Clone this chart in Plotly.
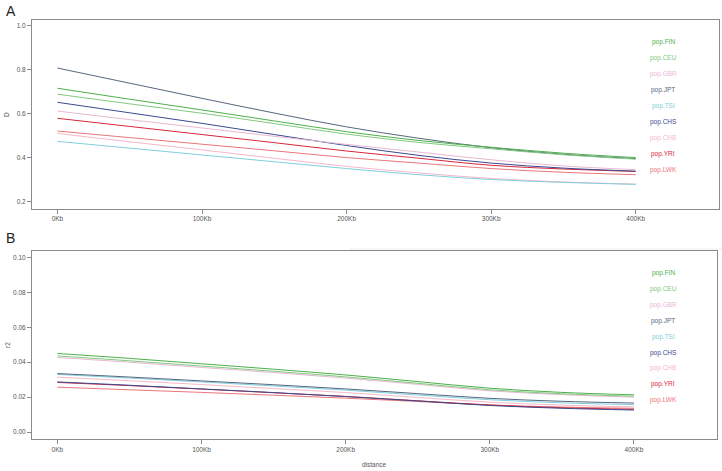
import plotly.graph_objects as go

# distance in Kb
dist_kb = [0, 50, 100, 150, 200, 250, 300, 350, 400]
tick_kb = [0, 100, 200, 300, 400]
tick_txt = ["0Kb", "100Kb", "200Kb", "300Kb", "400Kb"]

pops = ["pop.FIN", "pop.CEU", "pop.GBR", "pop.JPT", "pop.TSI",
        "pop.CHS", "pop.CHB", "pop.YRI", "pop.LWK"]
colors = ["#4daf4a", "#80c980", "#e8b8d2", "#56677f", "#7fcfdc",
          "#3a4a8f", "#f5b8ca", "#d7263d", "#e9767a"]

# panel A: D' decay
d_fin = [0.716, 0.666, 0.617, 0.567, 0.518, 0.478, 0.447, 0.420, 0.400]
d_ceu = [0.689, 0.645, 0.602, 0.555, 0.507, 0.469, 0.440, 0.413, 0.393]
d_gbr = [0.612, 0.573, 0.535, 0.497, 0.460, 0.425, 0.390, 0.362, 0.345]
d_jpt = [0.808, 0.739, 0.670, 0.603, 0.540, 0.488, 0.445, 0.415, 0.395]
d_tsi = [0.474, 0.443, 0.412, 0.381, 0.350, 0.322, 0.300, 0.287, 0.278]
d_chs = [0.652, 0.604, 0.556, 0.505, 0.455, 0.410, 0.375, 0.352, 0.338]
d_chb = [0.510, 0.472, 0.435, 0.397, 0.360, 0.330, 0.305, 0.289, 0.279]
d_yri = [0.579, 0.542, 0.505, 0.468, 0.430, 0.397, 0.365, 0.348, 0.337]
d_lwk = [0.521, 0.491, 0.461, 0.431, 0.400, 0.375, 0.350, 0.333, 0.322]

# panel B: r2 decay
r_fin = [0.0450, 0.0422, 0.0391, 0.0360, 0.0327, 0.0289, 0.0251, 0.0227, 0.0213]
r_ceu = [0.0436, 0.0408, 0.0378, 0.0348, 0.0316, 0.0279, 0.0242, 0.0219, 0.0205]
r_gbr = [0.0427, 0.0400, 0.0370, 0.0341, 0.0309, 0.0273, 0.0236, 0.0214, 0.0200]
r_jpt = [0.0335, 0.0315, 0.0293, 0.0271, 0.0247, 0.0220, 0.0193, 0.0176, 0.0166]
r_tsi = [0.0330, 0.0309, 0.0287, 0.0264, 0.0240, 0.0212, 0.0185, 0.0167, 0.0157]
r_chs = [0.0287, 0.0268, 0.0247, 0.0226, 0.0203, 0.0178, 0.0152, 0.0136, 0.0126]
r_chb = [0.0314, 0.0294, 0.0272, 0.0249, 0.0226, 0.0198, 0.0171, 0.0154, 0.0144]
r_yri = [0.0284, 0.0266, 0.0246, 0.0225, 0.0204, 0.0179, 0.0155, 0.0139, 0.0130]
r_lwk = [0.0257, 0.0242, 0.0227, 0.0211, 0.0194, 0.0175, 0.0155, 0.0143, 0.0136]

d_vals = [d_fin, d_ceu, d_gbr, d_jpt, d_tsi, d_chs, d_chb, d_yri, d_lwk]
r_vals = [r_fin, r_ceu, r_gbr, r_jpt, r_tsi, r_chs, r_chb, r_yri, r_lwk]

W, H = 722, 471
FONT = "Liberation Sans, Arial, sans-serif"
fig = go.Figure()

# draw in reverse so the top legend entries sit on top
for vals, col, name in reversed(list(zip(d_vals, colors, pops))):
    fig.add_trace(go.Scatter(x=dist_kb, y=vals, mode="lines", name=name,
                             line=dict(color=col, width=1, shape="spline"),
                             xaxis="x", yaxis="y", showlegend=False))
for vals, col, name in reversed(list(zip(r_vals, colors, pops))):
    fig.add_trace(go.Scatter(x=dist_kb, y=vals, mode="lines", name=name,
                             line=dict(color=col, width=1, shape="spline"),
                             xaxis="x2", yaxis="y2", showlegend=False))

def px_x(p):
    return p / W

def px_y(p):
    return 1 - p / H

axis_common = dict(showline=True, linecolor="#8a8a8a", linewidth=1, mirror=True,
                   showgrid=False, zeroline=False, ticks="outside", ticklen=4,
                   tickcolor="#8a8a8a", tickfont=dict(size=6.5, color="#555", family=FONT))

xa = dict(axis_common, range=[-17.6, 457.6], tickvals=tick_kb, ticktext=tick_txt)
fig.update_layout(
    width=W, height=H,
    margin=dict(l=0, r=0, t=0, b=0),
    paper_bgcolor="white", plot_bgcolor="white",
    xaxis=dict(xa, domain=[px_x(32), px_x(719)], anchor="y"),
    yaxis=dict(axis_common, domain=[px_y(208.5), px_y(20)], anchor="x",
               range=[0.168, 1.027], tickvals=[0.2, 0.4, 0.6, 0.8, 1.0],
               ticktext=["0.2", "0.4", "0.6", "0.8", "1.0"]),
    xaxis2=dict(xa, domain=[px_x(32), px_x(717)], anchor="y2"),
    yaxis2=dict(axis_common, domain=[px_y(439), px_y(250.5)], anchor="x2",
                range=[-0.004, 0.104], tickvals=[0, 0.02, 0.04, 0.06, 0.08, 0.10],
                ticktext=["0.00", "0.02", "0.04", "0.06", "0.08", "0.10"]),
)

ann = []
# panel letters
ann.append(dict(text="A", x=px_x(4), y=px_y(11), xanchor="left", yanchor="middle",
                font=dict(size=14, color="#222", family=FONT)))
ann.append(dict(text="B", x=px_x(4), y=px_y(238), xanchor="left", yanchor="middle",
                font=dict(size=14, color="#222", family=FONT)))
# axis titles
ann.append(dict(text="D", x=px_x(7), y=px_y(114), textangle=-90, xanchor="center",
                yanchor="middle", font=dict(size=6.5, color="#555", family=FONT)))
ann.append(dict(text="r2", x=px_x(7), y=px_y(345), textangle=-90, xanchor="center",
                yanchor="middle", font=dict(size=6.5, color="#555", family=FONT)))
ann.append(dict(text="distance", x=px_x(374), y=px_y(464), xanchor="center",
                yanchor="middle", font=dict(size=6.5, color="#555", family=FONT)))

# legend labels
for i, (name, col) in enumerate(zip(pops, colors)):
    ann.append(dict(text=name, x=px_x(663), y=px_y(42 + 16 * i), xanchor="center",
                    yanchor="middle", font=dict(size=6.5, color=col, family=FONT)))
    ann.append(dict(text=name, x=px_x(663), y=px_y(273 + 15.9 * i), xanchor="center",
                    yanchor="middle", font=dict(size=6.5, color=col, family=FONT)))

for a in ann:
    a.update(xref="paper", yref="paper", showarrow=False)
fig.update_layout(annotations=ann)

# faint border of the lower panel image
fig.add_shape(type="line", xref="paper", yref="paper", x0=px_x(350), x1=1,
              y0=px_y(249), y1=px_y(249), line=dict(color="#eeeeee", width=1))

fig.write_html("out.html", config={"displayModeBar": False},
               post_script="document.body.style.margin='0';")
